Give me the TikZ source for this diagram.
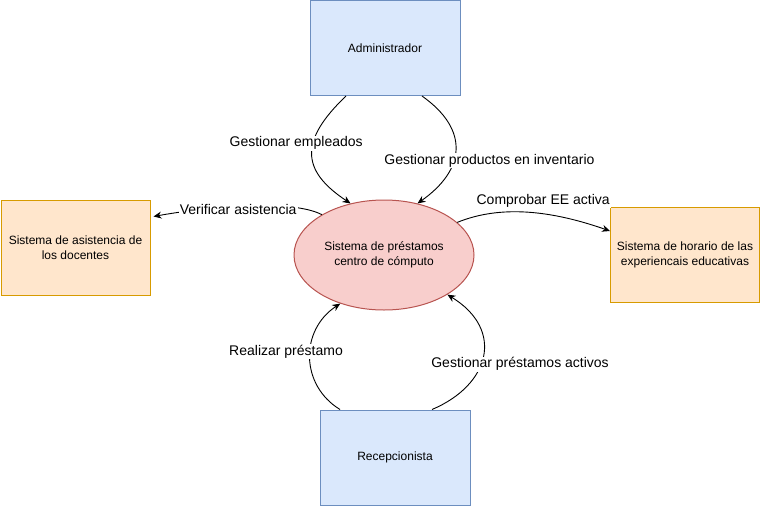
\documentclass[tikz,border=0pt]{standalone}
\usepackage{fontspec}
\setmainfont{Liberation Sans}
\usepackage{tikz}
\usetikzlibrary{calc}
\usetikzlibrary{arrows.meta}
\usetikzlibrary{shapes.geometric}
\definecolor{actorfill}{HTML}{DAE8FC}
\definecolor{actordraw}{HTML}{6C8EBF}
\definecolor{extfill}{HTML}{FFE6CC}
\definecolor{extdraw}{HTML}{D79B00}
\definecolor{procfill}{HTML}{F8CECC}
\definecolor{procdraw}{HTML}{B85450}

\begin{document}
\begin{tikzpicture}[x=1pt,y=-1pt,
	actor/.style={draw=actordraw,fill=actorfill,line width=1pt,minimum width=150pt,minimum height=95pt,
		font=\fontsize{12}{15}\selectfont,align=center},
	ext/.style={draw=extdraw,fill=extfill,line width=1pt,minimum width=149pt,minimum height=95pt,
		font=\fontsize{12}{15}\selectfont,align=center},
	proc/.style={ellipse,draw=procdraw,fill=procfill,line width=1pt,minimum width=180pt,minimum height=110pt,
		inner sep=0pt,font=\fontsize{12}{15}\selectfont,align=center},
	flow/.style={-{Stealth[length=8pt,width=7pt]},line width=0.9pt},
	lbl/.style={fill=white,inner sep=1pt,font=\fontsize{14}{16}\selectfont}
	]
	\useasboundingbox (0,0) rectangle (762,506);
	%%%%%%%%%%%%%%%
	\node[actor] (admin) at (385,48){Administrador};
	\node[proc] (sistema) at (384,255){Sistema de préstamos\\centro de cómputo};
	\node[ext] (asistencia) at (75.5,247.5){Sistema de asistencia de\\los docentes};
	\node[ext] (horario) at (685,255){Sistema de horario de las\\experiencais educativas};
	\node[actor] (recep) at (395,457.5){Recepcionista};
	%%%%%%%%%%%%%%%
	\draw[flow] ($(admin.south)+(-39,0)$) .. controls (300,140) and (300,170) .. (sistema.123)
		node[lbl,pos=0.4,xshift=-17pt]{Gestionar empleados};
	\draw[flow] ($(admin.south)+(37,0)$) .. controls (470,130) and (465,170) .. (sistema.57)
		node[lbl,pos=0.6,xshift=36pt]{Gestionar productos en inventario};
	%%%%%%%%%%%%%%%
	\draw[flow] (sistema.147) .. controls (290,198) and (200,208) .. ($(asistencia.east)+(3,-31)$)
		node[lbl,pos=0.5,xshift=-5pt,yshift=-3pt]{Verificar asistencia};
	\draw[flow] (sistema.24) .. controls (500,205) and (550,210) .. ($(horario.west)+(0,-24)$)
		node[lbl,pos=0.5,xshift=16pt,yshift=11.5pt]{Comprobar EE activa};
	%%%%%%%%%%%%%%%
	\draw[flow] ($(recep.north)+(-55,0)$) .. controls (300,385) and (300,330) .. (sistema.-132)
		node[lbl,pos=0.5,xshift=-24pt,yshift=5.5pt]{Realizar préstamo};
	\draw[flow] ($(recep.north)+(37,0)$) .. controls (490,385) and (505,330) .. (sistema.-32)
		node[lbl,pos=0.5,xshift=37pt,yshift=-8pt]{Gestionar préstamos activos};
\end{tikzpicture}
\end{document}
